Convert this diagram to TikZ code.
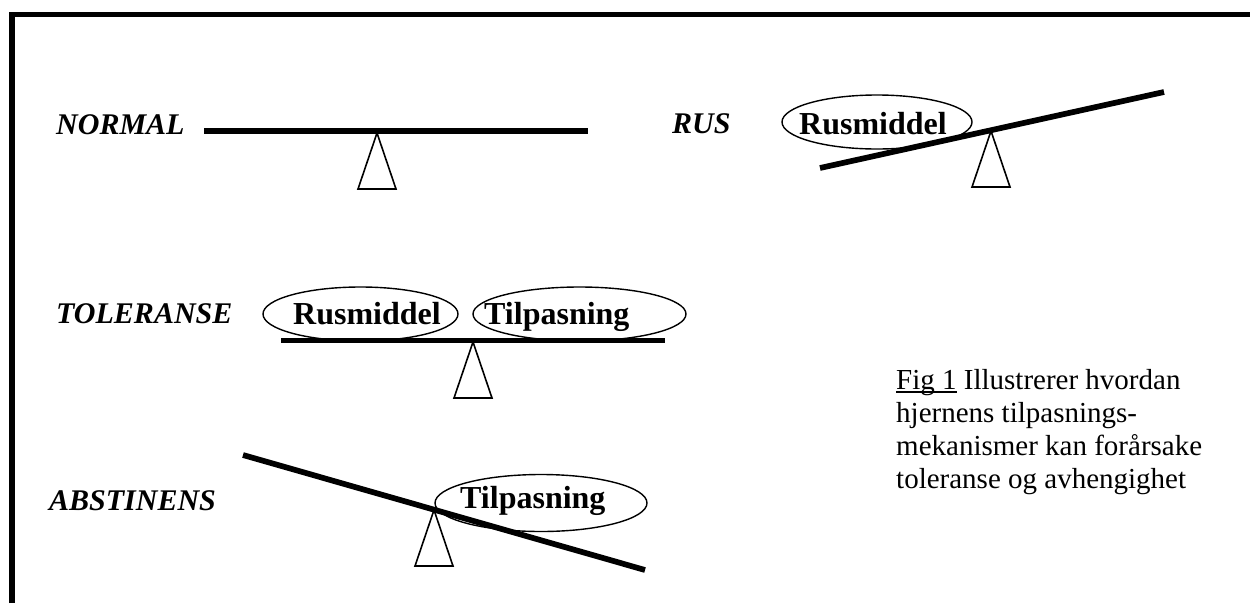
\documentclass[tikz,border=0pt]{standalone}
\usepackage{fontspec}
\setmainfont{Liberation Serif}
\usetikzlibrary{shapes.geometric}
\newcommand\figul[1]{\setbox0\hbox{#1}\rlap{\rule[-3.5pt]{\wd0}{1.3pt}}\box0\relax}
\begin{document}
\begin{tikzpicture}[x=1pt,y=-1pt,
  lbl/.style={font=\fontsize{30}{36}\selectfont\bfseries\itshape, inner sep=0pt, anchor=base west},
  beam/.style={line width=5.7pt},
  fulcrum/.style={draw, line width=1.6pt, line join=miter},
  weight/.style={draw, ellipse, line width=1.4pt, inner sep=0pt},
  wtext/.style={font=\fontsize{32}{36}\selectfont\bfseries, inner sep=0pt, anchor=base west},
  frame/.style={line width=5.7pt, line join=miter},
  fulc/.pic={\draw[fulcrum] (0,0) -- (19,56) -- (-19,56) -- cycle;}]
\useasboundingbox (0,0) rectangle (1250,603);
% frame
\coordinate (f1) at (12.3,603);
\coordinate (f2) at (12.3,14.5);
\coordinate (f3) at (1250,14.5);
\draw[frame] (f1) -- (f2) -- (f3);

% NORMAL
\node[lbl] (normal) at (56,134) {NORMAL};
\coordinate (b1l) at (204,131);
\coordinate (b1r) at (588,131);
\draw[beam] (b1l) -- (b1r);
\coordinate (t1) at (377,133);
\pic at (t1) {fulc};

% RUS
\node[lbl] (rus) at (672,133) {RUS};
\node[weight, minimum width=190pt, minimum height=54pt] (rusm) at (877,122) {};
\node[wtext] (rusmt) at (799,134) {Rusmiddel};
\coordinate (b2l) at (820,168);
\coordinate (b2r) at (1164,92);
\draw[beam] (b2l) -- (b2r);
\coordinate (t2) at (991,131);
\pic at (t2) {fulc};

% TOLERANSE
\node[lbl] (tol) at (56,323) {TOLERANSE};
\node[weight, minimum width=195pt, minimum height=54pt] (tolr) at (360.5,314) {};
\node[wtext] (tolrt) at (293,324) {Rusmiddel};
\node[weight, minimum width=213pt, minimum height=54pt] (tolt) at (579.5,314) {};
\node[wtext] (toltt) at (484,324) {Tilpasning};
\coordinate (b3l) at (281,340.5);
\coordinate (b3r) at (665,340.5);
\draw[beam] (b3l) -- (b3r);
\coordinate (t3) at (473,342);
\pic at (t3) {fulc};

% ABSTINENS
\node[lbl] (abs) at (49,510) {ABSTINENS};
\node[weight, minimum width=212pt, minimum height=57pt] (abst) at (541,503) {};
\node[wtext] (abstt) at (460,508) {Tilpasning};
\coordinate (b4l) at (243,455);
\coordinate (b4r) at (645,570);
\draw[beam] (b4l) -- (b4r);
\coordinate (t4) at (434,510);
\pic at (t4) {fulc};

% caption
\node[anchor=base west, inner sep=0pt, font=\fontsize{29}{33}\selectfont] (cap) at (896,389)
  {\begin{tabular}[t]{@{}l@{}}\figul{Fig 1} Illustrerer hvordan\\ hjernens tilpasnings-\\ mekanismer kan forårsake\\ toleranse og avhengighet\end{tabular}};
\end{tikzpicture}
\end{document}
